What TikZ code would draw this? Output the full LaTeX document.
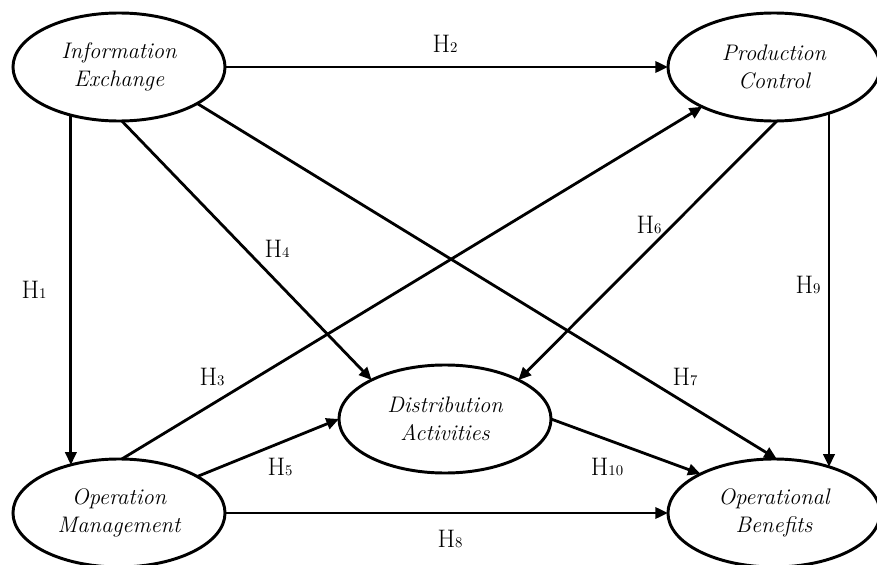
\documentclass[tikz,border=0pt]{standalone}
\usepackage{amsmath}
\usepackage{tikz}
\usetikzlibrary{arrows.meta,shapes.geometric}
\tikzset{>/.tip={Triangle[length=9pt,width=8pt]},
  factor/.style={draw,ellipse,line width=2.1pt,outer sep=0pt,inner sep=0pt,
    minimum width=5.3cm,minimum height=2.7cm,align=center,
    font=\fontsize{16}{19.5}\selectfont\itshape},
  hyp/.style={font=\fontsize{18}{18}\selectfont}}
\newcommand{\hnum}[1]{H{\fontsize{10.5}{11}\selectfont #1}}

\begin{document}
\begin{tikzpicture}[x=0.025cm,y=-0.025cm]
\useasboundingbox (0,0) rectangle (877,565);
\node[factor] (IE) at (119,67)  {Information\\Exchange};
\node[factor] (PC) at (774,67)  {Production\\Control};
\node[factor] (DA) at (445,419) {Distribution\\Activities};
\node[factor] (OM) at (119,513) {Operation\\Management};
\node[factor] (OB) at (774,513) {Operational\\Benefits};

\node[hyp] (lH1) at (34,290)  {\hnum{1}};
\node[hyp] (lH2) at (445,44)  {\hnum{2}};
\node[hyp] (lH3) at (212,377) {\hnum{3}};
\node[hyp] (lH4) at (277,249) {\hnum{4}};
\node[hyp] (lH5) at (280,467) {\hnum{5}};
\node[hyp] (lH6) at (649,225) {\hnum{6}};
\node[hyp] (lH7) at (685,377) {\hnum{7}};
\node[hyp] (lH8) at (450,539) {\hnum{8}};
\node[hyp] (lH9) at (808,285) {\hnum{9}};
\node[hyp] (lH10) at (607,467) {\hnum{10}};

\path[->,line width=2pt] (IE.-135) edge (OM.135);
\path[->,line width=2pt] (IE.east) edge (PC.west);
\path[->,line width=2pt] (OM.87) edge (PC.-151);
\path[->,line width=2pt] (IE.-87) edge (DA.152);
\path[->,line width=2pt] (OM.25) edge (DA.west);
\path[->,line width=2pt] (PC.-87) edge (DA.28);
\path[->,line width=2pt] (IE.-25) edge (OB.87);
\path[->,line width=2pt] (OM.east) edge (OB.west);
\path[->,line width=2pt] (PC.-40) edge (OB.40);
\path[->,line width=2pt] (DA.east) edge (OB.152);
\end{tikzpicture}
\end{document}
